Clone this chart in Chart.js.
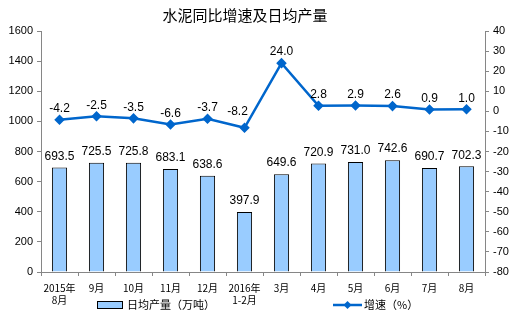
<!DOCTYPE html>
<html>
<head>
<meta charset="utf-8">
<script src="https://cdn.jsdelivr.net/npm/chart.js@4"></script>
<style>
    html, body { margin: 0; padding: 0; background: #fff; }
    #wrap { width: 524px; height: 327px; }
</style>
</head>
<body>
<div id="wrap"><canvas id="cementChart" width="524" height="327"></canvas></div>
<script>
// 月份
const months = [['2015年', '8月'], '9月', '10月', '11月', '12月', ['2016年', '1-2月'], '3月', '4月', '5月', '6月', '7月', '8月'];
// 日均产量（万吨）
const dailyOutput = [693.5, 725.5, 725.8, 683.1, 638.6, 397.9, 649.6, 720.9, 731.0, 742.6, 690.7, 702.3];
// 同比增速（%）
const growthRate = [-4.2, -2.5, -3.5, -6.6, -3.7, -8.2, 24.0, 2.8, 2.9, 2.6, 0.9, 1.0];

const outputLabel = '日均产量（万吨）';
const growthLabel = '增速（%）';
const chartTitle = '水泥同比增速及日均产量';

const barColor = '#99CCFF';
const lineColor = '#0066CC';
const axisColor = '#868686';
const labelFont = '12px "Liberation Sans", Arial, sans-serif';

// 数值标注、标题和图例
const decorPlugin = {
    id: 'decor',
    afterDatasetsDraw(chart) {
        const ctx = chart.ctx;
        ctx.save();
        ctx.fillStyle = '#000';
        ctx.font = labelFont;
        ctx.textAlign = 'center';
        ctx.textBaseline = 'bottom';

        chart.getDatasetMeta(1).data.forEach((bar, i) => {
            ctx.fillText(dailyOutput[i].toFixed(1), bar.x, bar.y - 5);
        });
        chart.getDatasetMeta(0).data.forEach((pt, i) => {
            // 折线拐点处的标注往左上挪，避免压线
            const dx = i === 5 ? -7 : 0;
            const dy = i === 5 ? -10 : -5;
            ctx.fillText(growthRate[i].toFixed(1), pt.x + dx, pt.y + dy);
        });

        // 标题
        ctx.font = '15px "Noto Sans CJK SC", sans-serif';
        ctx.textBaseline = 'middle';
        ctx.fillText(chartTitle, 245, 15);

        // 图例
        ctx.fillStyle = barColor;
        ctx.fillRect(97, 301, 25, 7);
        ctx.strokeStyle = '#000';
        ctx.lineWidth = 1;
        ctx.strokeRect(97.5, 301.5, 25, 7);
        ctx.fillStyle = '#000';
        ctx.font = '11px "Noto Sans CJK SC", sans-serif';
        ctx.textAlign = 'left';
        ctx.fillText(outputLabel, 127, 305);

        ctx.strokeStyle = lineColor;
        ctx.lineWidth = 2.5;
        ctx.beginPath();
        ctx.moveTo(333, 305);
        ctx.lineTo(362, 305);
        ctx.stroke();
        ctx.fillStyle = lineColor;
        ctx.beginPath();
        ctx.moveTo(347.5, 301);
        ctx.lineTo(351.5, 305);
        ctx.lineTo(347.5, 309);
        ctx.lineTo(343.5, 305);
        ctx.closePath();
        ctx.fill();
        ctx.fillStyle = '#000';
        ctx.fillText(growthLabel, 364, 305);
        ctx.restore();
    }
};

const ctx = document.getElementById('cementChart').getContext('2d');
new Chart(ctx, {
    type: 'bar',
    data: {
        labels: months,
        datasets: [
            {
                type: 'line',
                label: growthLabel,
                data: growthRate,
                yAxisID: 'yRate',
                borderColor: lineColor,
                backgroundColor: lineColor,
                borderWidth: 2.5,
                pointStyle: 'rectRot',
                pointRadius: 3.5,
                tension: 0,
                order: 0
            },
            {
                label: outputLabel,
                data: dailyOutput,
                yAxisID: 'yOutput',
                backgroundColor: barColor,
                borderColor: '#000',
                borderWidth: 1,
                barPercentage: 0.41,
                categoryPercentage: 1,
                order: 1
            }
        ]
    },
    plugins: [decorPlugin],
    options: {
        responsive: false,
        animation: false,
        layout: { padding: { top: 31, left: 0, right: 0, bottom: 0 } },
        plugins: {
            legend: { display: false },
            title: { display: false },
            tooltip: { enabled: false }
        },
        scales: {
            x: {
                grid: { drawOnChartArea: false, color: axisColor, tickLength: 4, offset: true },
                border: { color: axisColor },
                ticks: {
                    color: '#000',
                    maxRotation: 0,
                    autoSkip: false,
                    padding: 6,
                    font: { family: '"Noto Sans CJK SC", sans-serif', size: 10 }
                },
                afterFit(scale) { scale.height = 55; }
            },
            yOutput: {
                position: 'left',
                min: 0,
                max: 1600,
                grid: { drawOnChartArea: false, color: axisColor, tickLength: 4 },
                border: { color: axisColor },
                ticks: {
                    stepSize: 200,
                    color: '#000',
                    padding: 4,
                    callback: v => String(v),
                    font: { family: '"Liberation Sans", Arial, sans-serif', size: 11 }
                },
                afterFit(scale) { scale.width = 41; }
            },
            yRate: {
                position: 'right',
                min: -80,
                max: 40,
                grid: { drawOnChartArea: false, color: axisColor, tickLength: 4 },
                border: { color: axisColor },
                ticks: {
                    stepSize: 10,
                    color: '#000',
                    padding: 4,
                    callback: v => String(v),
                    font: { family: '"Liberation Sans", Arial, sans-serif', size: 11 }
                },
                afterFit(scale) { scale.width = 39; }
            }
        }
    }
});
</script>
</body>
</html>
